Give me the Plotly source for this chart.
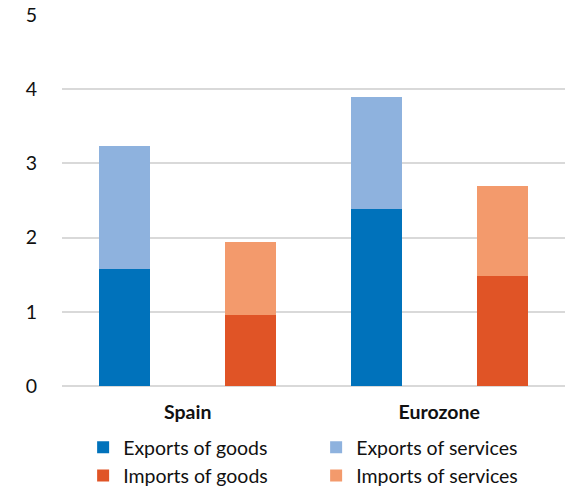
import plotly.graph_objects as go

groups = ["Spain", "Eurozone"]
exports_goods = [1.58, 2.39]
exports_services = [1.65, 1.51]
imports_goods = [0.96, 1.48]
imports_services = [0.98, 1.22]

series_names = ["Exports of goods", "Exports of services", "Imports of goods", "Imports of services"]
colors = ["#0072BB", "#8EB2DE", "#E05426", "#F39A6C"]

x_exp = [2 * i for i in range(len(groups))]
x_imp = [2 * i + 1 for i in range(len(groups))]

FONT = "Lato, Open Sans, sans-serif"
BW = 0.405

fig = go.Figure()
fig.add_trace(go.Bar(x=x_exp, y=exports_goods, name=series_names[0], marker_color=colors[0], width=BW, marker_line_width=0))
fig.add_trace(go.Bar(x=x_exp, y=exports_services, name=series_names[1], marker_color=colors[1], width=BW, marker_line_width=0))
fig.add_trace(go.Bar(x=x_imp, y=imports_goods, name=series_names[2], marker_color=colors[2], width=BW, marker_line_width=0))
fig.add_trace(go.Bar(x=x_imp, y=imports_services, name=series_names[3], marker_color=colors[3], width=BW, marker_line_width=0))

fig.update_layout(
    width=567, height=487,
    barmode="stack",
    plot_bgcolor="white", paper_bgcolor="white",
    margin=dict(l=62, r=2, t=15, b=101, autoexpand=False),
    font=dict(family=FONT, size=19, color="#111111"),
    showlegend=True,
    legend=dict(
        orientation="h", x=0.042, xanchor="left",
        yref="container", y=0.121, yanchor="top",
        traceorder="normal", entrywidth=188, entrywidthmode="pixels",
        font=dict(size=19.5, family=FONT, color="#111111"),
        itemclick=False, tracegroupgap=0, borderwidth=0,
    ),
)
fig.update_yaxes(
    range=[0, 5], dtick=1, showgrid=True, gridcolor="#D9D9D9", gridwidth=2,
    zeroline=True, zerolinecolor="#D9D9D9", zerolinewidth=2,
    showline=False, ticks="outside", ticklen=0, ticklabelstandoff=20,
    tickfont=dict(size=19.5, family=FONT, color="#111111"),
)
fig.update_xaxes(
    range=[-0.5, 3.5], tickvals=[0.5, 2.5],
    ticktext=["<b>" + g + "</b>" for g in groups],
    showgrid=False, zeroline=False, showline=False, ticks="", ticklabelstandoff=12,
    tickfont=dict(size=19.5, family=FONT, color="#111111"),
)

fig.write_html("out.html")
